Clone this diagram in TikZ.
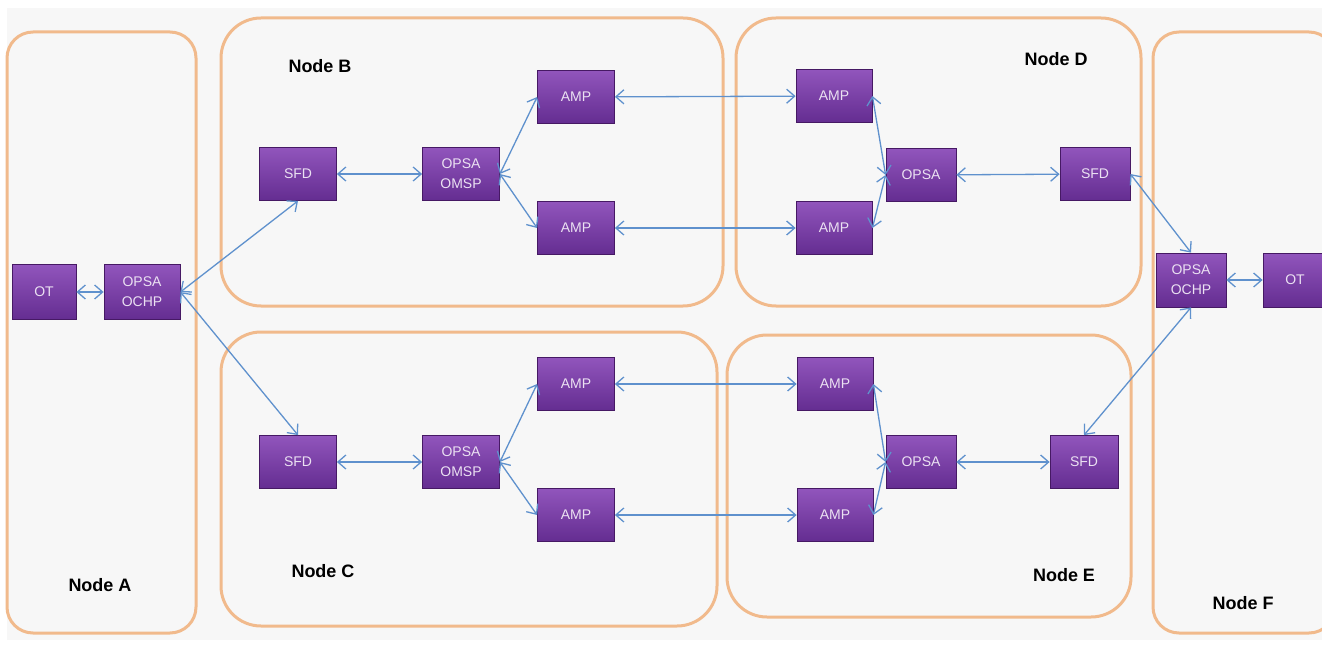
\documentclass[tikz,border=0pt]{standalone}
\usepackage{fontspec}
\setmainfont{Liberation Sans}
\usetikzlibrary{arrows.meta}
\definecolor{bgc}{RGB}{247,247,247}
\definecolor{orng}{RGB}{241,186,140}
\definecolor{ptop}{RGB}{145,85,188}
\definecolor{pbot}{RGB}{100,45,145}
\definecolor{pdraw}{RGB}{70,25,100}
\definecolor{ptxt}{RGB}{235,225,242}
\definecolor{lnk}{RGB}{95,145,205}
\tikzset{
  region/.style={draw=orng, line width=3pt},
  pbox/.style={draw=pdraw, line width=0.8pt, top color=ptop, bottom color=pbot,
     text=ptxt, font=\fontsize{14}{20}\selectfont, align=center, inner sep=0pt,
     minimum width=77pt, minimum height=53pt},
  lbl/.style={font=\fontsize{18}{20}\selectfont\bfseries, text=black},
  link/.style={draw=lnk, line width=1.3pt, {Straight Barb[length=8pt,width=14pt]}-{Straight Barb[length=8pt,width=14pt]}},
}
\begin{document}
\begin{tikzpicture}[x=1pt,y=-1pt]
\useasboundingbox (0,0) rectangle (1322,647);
\fill[white] (0,0) rectangle (1322,647);
\fill[bgc] (7,8) rectangle (1322,640);
% regions
\draw[region, rounded corners=26pt] (7,32) rectangle (196,633);
\draw[region, rounded corners=40pt] (221,18) rectangle (723,306);
\draw[region, rounded corners=40pt] (736,18) rectangle (1141,306);
\draw[region, rounded corners=40pt] (221,332) rectangle (717,626);
\draw[region, rounded corners=40pt] (727,335) rectangle (1131,617);
\begin{scope}
\clip (0,0) rectangle (1322,647);
\draw[region, rounded corners=26pt] (1153,32) rectangle (1335,633);
\end{scope}
% labels
\node[lbl] (lA) at (100,585) {Node A};
\node[lbl] (lB) at (320,66) {Node B};
\node[lbl] (lC) at (323,571) {Node C};
\node[lbl] (lD) at (1056,59) {Node D};
\node[lbl] (lE) at (1064,575) {Node E};
\node[lbl] (lF) at (1243,603) {Node F};
% boxes
\node[pbox, minimum width=64pt, minimum height=55pt] (OTA) at (44,292) {OT};
\node[pbox, minimum width=76pt, minimum height=55pt] (OCHPA) at (142,292) {OPSA\\OCHP};
\node[pbox] (SFDB) at (298,174) {SFD};
\node[pbox] (OMSPB) at (461,174) {OPSA\\OMSP};
\node[pbox] (AMPB1) at (576,97) {AMP};
\node[pbox] (AMPB2) at (576,228) {AMP};
\node[pbox, minimum width=76pt] (AMPD1) at (834,96) {AMP};
\node[pbox, minimum width=76pt] (AMPD2) at (834,228) {AMP};
\node[pbox, minimum width=70pt] (OPSAD) at (921,175) {OPSA};
\node[pbox, minimum width=70pt] (SFDD) at (1095,174) {SFD};
\node[pbox, minimum width=70pt, minimum height=54pt] (OCHPF) at (1191,280) {OPSA\\OCHP};
\node[pbox, minimum width=64pt, minimum height=54pt, text width=50pt] (OTF) at (1295,280) {OT};
\node[pbox] (SFDC) at (298,462) {SFD};
\node[pbox] (OMSPC) at (461,462) {OPSA\\OMSP};
\node[pbox] (AMPC1) at (576,384) {AMP};
\node[pbox] (AMPC2) at (576,515) {AMP};
\node[pbox, minimum width=76pt] (AMPE1) at (835,384) {AMP};
\node[pbox, minimum width=76pt] (AMPE2) at (835,515) {AMP};
\node[pbox, minimum width=70pt] (OPSAE) at (921,462) {OPSA};
\node[pbox, minimum width=68pt] (SFDE) at (1084,462) {SFD};
% links
\draw[link] (OTA) -- (OCHPA);
\draw[link] (OCHPA.east) -- (SFDB.south);
\draw[link] (OCHPA.east) -- (SFDC.north);
\draw[link] (SFDB) -- (OMSPB);
\draw[link] (OMSPB.east) -- (AMPB1.west);
\draw[link] (OMSPB.east) -- (AMPB2.west);
\draw[link] (AMPB1) -- (AMPD1);
\draw[link] (AMPB2) -- (AMPD2);
\draw[link] (AMPD1.east) -- (OPSAD.west);
\draw[link] (AMPD2.east) -- (OPSAD.west);
\draw[link] (OPSAD) -- (SFDD);
\draw[link] (SFDD.east) -- (OCHPF.north);
\draw[link] (SFDE.north) -- (OCHPF.south);
\draw[link] (OCHPF) -- (OTF);
\draw[link] (SFDC) -- (OMSPC);
\draw[link] (OMSPC.east) -- (AMPC1.west);
\draw[link] (OMSPC.east) -- (AMPC2.west);
\draw[link] (AMPC1) -- (AMPE1);
\draw[link] (AMPC2) -- (AMPE2);
\draw[link] (AMPE1.east) -- (OPSAE.west);
\draw[link] (AMPE2.east) -- (OPSAE.west);
\draw[link] (OPSAE) -- (SFDE);
\end{tikzpicture}
\end{document}
